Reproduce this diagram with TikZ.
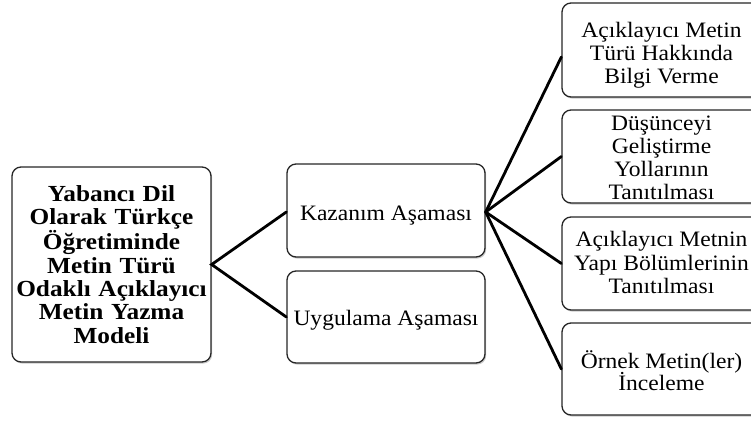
\documentclass[tikz,border=0pt]{standalone}
\usepackage{fontspec}
\setmainfont{Liberation Serif}[FakeStretch=1.07]
\newfontfamily\rootfont{Liberation Serif}[FakeStretch=1.1]
\usetikzlibrary{shadows}
\begin{document}
\lineskiplimit=-30pt\relax
\begin{tikzpicture}[x=1pt,y=-1pt,
  box/.style={draw=black!85, line width=1.3pt, rounded corners=9pt, fill=white,
    inner sep=0pt,
    drop shadow={shadow xshift=1.2pt, shadow yshift=-1.6pt, fill=black!35, opacity=0.6}},
  rt/.style={font=\fontsize{22}{#1}\selectfont, align=center, inner sep=0pt},
  boldtext/.style={font=\fontsize{23}{23.3}\selectfont\rootfont\bfseries, align=center},
  conn/.style={line width=2.8pt, black, line cap=round}]
\useasboundingbox (0,0) rectangle (751,420);
% boxes
\node[box, boldtext, text width=199pt, minimum height=195pt] (root) at (111.5,264.5)
  {Yabancı Dil\\Olarak Türkçe\\Öğretiminde\\Metin Türü\\Odaklı Açıklayıcı\\Metin Yazma\\Modeli};
\node[box, minimum width=198pt, minimum height=93pt] (kaz) at (386,210.5) {};
\node[box, minimum width=198pt, minimum height=92pt] (uyg) at (386,317) {};
\node[box, minimum width=208pt, minimum height=94pt] (b1) at (666,50) {};
\node[box, minimum width=208pt, minimum height=93pt] (b2) at (666,156.5) {};
\node[box, minimum width=208pt, minimum height=93pt] (b3) at (666,263.5) {};
\node[box, minimum width=208pt, minimum height=92pt] (b4) at (666,369) {};
% texts
\node[rt=23] (tkaz) at (386,215.6) {Kazanım Aşaması};
\node[rt=23] (tuyg) at (386,319.9) {Uygulama Aşaması};
\node[rt=23] (t1) at (661.5,54.9) {Açıklayıcı Metin\\Türü Hakkında\\Bilgi Verme};
\node[rt=22.7] (t2) at (661.5,157.8) {Düşünceyi\\Geliştirme\\Yollarının\\Tanıtılması};
\node[rt=23.3] (t3) at (661.5,262.5) {Açıklayıcı Metnin\\Yapı Bölümlerinin\\Tanıtılması};
\node[rt=22] (t4) at (661.5,370.5) {Örnek Metin(ler)\\İnceleme};
% connectors
\draw[conn] (uyg.west) -- (root.east) -- ([yshift=-1.5pt]kaz.west);
\draw[conn] ([yshift=-1.5pt]kaz.east) -- ([yshift=-7pt]b1.west);
\draw[conn] ([yshift=-1.5pt]kaz.east) -- (b2.west);
\draw[conn] ([yshift=-1.5pt]kaz.east) -- (b3.west);
\draw[conn] ([yshift=-1.5pt]kaz.east) -- (b4.west);
\end{tikzpicture}
\end{document}
